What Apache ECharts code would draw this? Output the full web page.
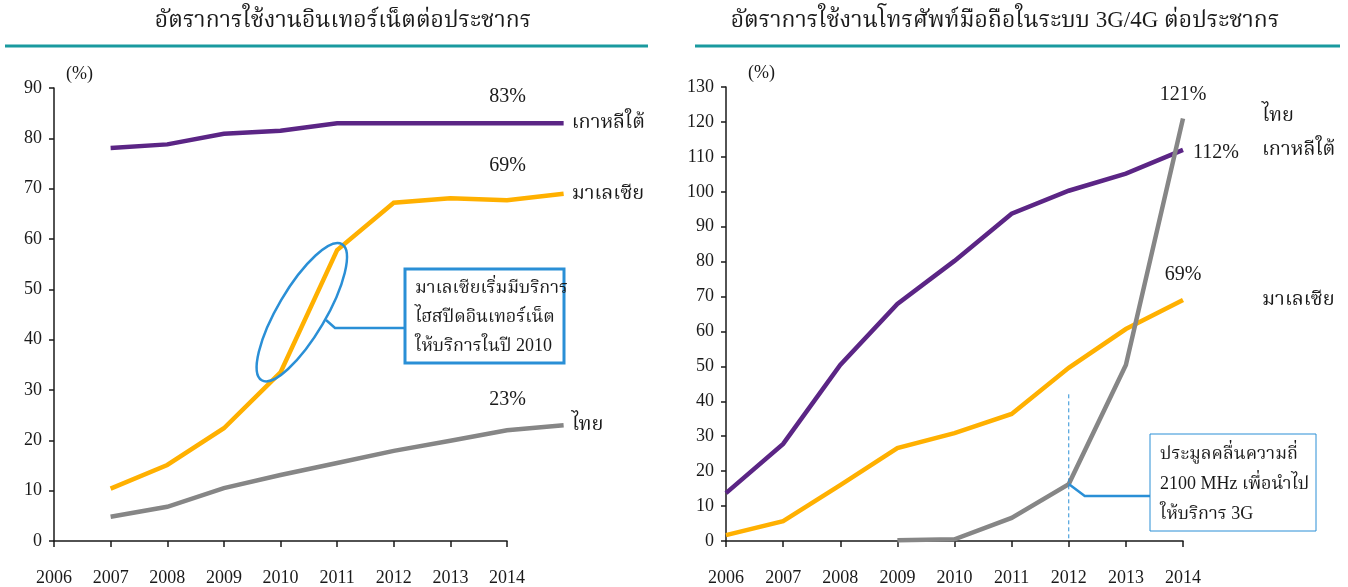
<!DOCTYPE html>
<html>
<head>
<meta charset="utf-8">
<script src="https://cdn.jsdelivr.net/npm/echarts@6/dist/echarts.min.js"></script>
<style>
  html, body { margin: 0; padding: 0; background: #ffffff; }
  #chart { width: 1348px; height: 587px; }
</style>
</head>
<body>
<div id="chart"></div>
<script>
// Axis tick labels (years) shared by both panels
const yearTicks = [2006, 2007, 2008, 2009, 2010, 2011, 2012, 2013, 2014];

// Internet users per population (%)
const netYears    = [2007, 2008, 2009, 2010, 2011, 2012, 2013, 2014, 2015];
const netKorea    = [78.1, 78.8, 80.9, 81.5, 83.0, 83.0, 83.0, 83.0, 83];
const netMalaysia = [10.4, 15.1, 22.4, 33.5, 57.8, 67.2, 68.1, 67.7, 69];
const netThailand = [4.8, 6.8, 10.5, 13.1, 15.5, 17.9, 19.9, 22.0, 23];

// 3G/4G mobile subscriptions per population (%)
const mobYears    = [2006, 2007, 2008, 2009, 2010, 2011, 2012, 2013, 2014];
const mobKorea    = [13.7, 27.8, 50.4, 67.9, 80.2, 93.7, 100.3, 105.2, 112];
const mobMalaysia = [1.7, 5.7, 16.0, 26.6, 30.9, 36.4, 49.6, 60.7, 69];
const mobThailand = [null, null, null, 0.2, 0.5, 6.6, 16.3, 50.4, 121];

const seriesNames = { korea: 'เกาหลีใต้', malaysia: 'มาเลเซีย', thailand: 'ไทย' };
const titles = [
  'อัตราการใช้งานอินเทอร์เน็ตต่อประชากร',
  'อัตราการใช้งานโทรศัพท์มือถือในระบบ 3G/4G ต่อประชากร'
];
const noteNet = ['มาเลเซียเริ่มมีบริการ', 'ไฮสปีดอินเทอร์เน็ต', 'ให้บริการในปี 2010'];
const noteMob = ['ประมูลคลื่นความถี่', '2100 MHz เพื่อนำไป', 'ให้บริการ 3G'];

const COLORS = { korea: '#5b2585', malaysia: '#ffb000', thailand: '#868686' };
const FONT = "'Liberation Serif', 'Norasi', 'Kinnari', 'Noto Serif Thai', 'Noto Sans Thai Looped', 'DejaVu Serif', serif";
const INK = '#1a1a1a';
const BLUE = '#2a8fd6';
const TEAL = '#1a9a9f';

function pairs(xs, ys) {
  const out = [];
  xs.forEach((x, i) => { if (ys[i] !== null) out.push([x, ys[i]]); });
  return out;
}

// "NN%" tag placed at the last point of a series
function pctMark(xs, ys, label) {
  let i = ys.length - 1;
  while (ys[i] === null) i--;
  return {
    symbol: 'circle', symbolSize: 0.1, silent: true, animation: false,
    itemStyle: { color: 'rgba(0,0,0,0)' },
    data: [{
      coord: [xs[i], ys[i]], value: ys[i],
      label: Object.assign({
        show: true,
        formatter: (p) => Math.round(p.value) + '%',
        fontFamily: FONT, fontSize: 20, color: INK
      }, label)
    }]
  };
}

function lineSeries(name, key, xs, ys, axisIdx, endDist, pctLabel, endOffset) {
  return {
    type: 'line',
    name: name,
    xAxisIndex: axisIdx,
    yAxisIndex: axisIdx,
    data: pairs(xs, ys),
    symbol: 'none',
    lineStyle: { color: COLORS[key], width: 4.5, cap: 'butt', join: 'miter' },
    itemStyle: { color: COLORS[key] },
    endLabel: {
      show: true,
      formatter: '{a}',
      distance: endDist,
      offset: endOffset || [0, 0],
      fontFamily: FONT, fontSize: 20, color: INK
    },
    markPoint: pctMark(xs, ys, pctLabel),
    emphasis: { disabled: true },
    animation: false
  };
}

function xAxisDef(gridIdx) {
  return {
    type: 'value', gridIndex: gridIdx,
    min: yearTicks[0], max: yearTicks[yearTicks.length - 1], interval: 1,
    splitLine: { show: false },
    axisLine: { lineStyle: { color: INK, width: 1.5 } },
    axisTick: { length: 6, lineStyle: { color: INK, width: 1.5 } },
    axisLabel: {
      margin: 28, fontFamily: FONT, fontSize: 18, color: INK,
      formatter: (v) => String(v)
    }
  };
}

function yAxisDef(gridIdx, max, namePad) {
  return {
    type: 'value', gridIndex: gridIdx,
    min: 0, max: max, interval: 10,
    name: '(%)',
    nameLocation: 'end',
    nameGap: 5,
    nameTextStyle: { fontFamily: FONT, fontSize: 18, color: INK, align: 'left', padding: [0, 0, 0, namePad] },
    splitLine: { show: false },
    axisLine: { show: true, lineStyle: { color: INK, width: 1.5 } },
    axisTick: { show: true, length: 5, lineStyle: { color: INK, width: 1.5 } },
    axisLabel: { margin: 12, fontFamily: FONT, fontSize: 18, color: INK }
  };
}

// The internet panel's lines run one year past the last labelled tick,
// so they sit on an unlabelled overlay grid that spans one extra year.
const NET_LEFT = 54, NET_W = 453;
const netSpan = yearTicks[yearTicks.length - 1] - yearTicks[0];
const netOverlayMax = netYears[netYears.length - 1];
const overlayW = NET_W * (netOverlayMax - yearTicks[0]) / netSpan;

const chart = echarts.init(document.getElementById('chart'), null, { renderer: 'canvas' });

chart.setOption({
  backgroundColor: '#ffffff',
  animation: false,
  title: [
    { text: titles[0], left: 338, top: 4, textAlign: 'center',
      textStyle: { fontFamily: FONT, fontSize: 23, fontWeight: 'normal', color: INK } },
    { text: titles[1], left: 1000, top: 4, textAlign: 'center',
      textStyle: { fontFamily: FONT, fontSize: 23, fontWeight: 'normal', color: INK } }
  ],
  grid: [
    { left: NET_LEFT, width: NET_W, top: 88, bottom: 46 },
    { left: 726, width: 457, top: 87, bottom: 46 },
    { left: NET_LEFT, width: overlayW, top: 88, bottom: 46 }
  ],
  xAxis: [
    xAxisDef(0),
    xAxisDef(1),
    { type: 'value', gridIndex: 2, min: yearTicks[0], max: netOverlayMax, show: false }
  ],
  yAxis: [
    yAxisDef(0, 90, 12),
    yAxisDef(1, 130, 22),
    { type: 'value', gridIndex: 2, min: 0, max: 90, show: false }
  ],
  series: [
    // internet panel: value tags sit above the 2014 tick
    lineSeries(seriesNames.korea, 'korea', netYears, netKorea, 2, 8,
      { position: 'top', distance: 16, offset: [-56, 0] }),
    lineSeries(seriesNames.malaysia, 'malaysia', netYears, netMalaysia, 2, 8,
      { position: 'top', distance: 18, offset: [-56, 0] }),
    lineSeries(seriesNames.thailand, 'thailand', netYears, netThailand, 2, 8,
      { position: 'top', distance: 15, offset: [-56, 0] }),
    // mobile panel
    lineSeries(seriesNames.korea, 'korea', mobYears, mobKorea, 1, 79,
      { position: 'right', distance: 10, offset: [0, 3] }),
    lineSeries(seriesNames.malaysia, 'malaysia', mobYears, mobMalaysia, 1, 79,
      { position: 'top', distance: 15 }),
    lineSeries(seriesNames.thailand, 'thailand', mobYears, mobThailand, 1, 79,
      { position: 'top', distance: 14 }, [0, -3])
  ]
});

// Annotations anchored to data positions
const px = (g, x, y) => chart.convertToPixel({ gridIndex: g }, [x, y]);

const malA = px(2, 2010, netMalaysia[3]);
const malB = px(2, 2011, netMalaysia[4]);
const ellC = [(malA[0] + malB[0]) / 2 - 7, (malA[1] + malB[1]) / 2 + 1];
const thai12 = px(1, 2012, mobThailand[6]);
const x12Top = px(1, 2012, 42);
const x12Base = px(1, 2012, 0);

function noteBox(x, y, w, h, lw, lines, lh) {
  return [
    { type: 'rect', shape: { x: x, y: y, width: w, height: h },
      style: { fill: '#ffffff', stroke: BLUE, lineWidth: lw }, z: 10 },
    { type: 'text', x: x + 10, y: y + 5, z: 11,
      style: { text: lines.join('\n'), fill: INK, font: '18px ' + FONT, lineHeight: lh } }
  ];
}

chart.setOption({
  graphic: [
    // teal rules under the panel titles
    { type: 'line', shape: { x1: 5, y1: 46, x2: 648, y2: 46 }, style: { stroke: TEAL, lineWidth: 3 } },
    { type: 'line', shape: { x1: 695, y1: 46, x2: 1340, y2: 46 }, style: { stroke: TEAL, lineWidth: 3 } },
    // ellipse around the 2010-2011 jump
    { type: 'ellipse', x: ellC[0], y: ellC[1], rotation: 59.5 * Math.PI / 180,
      shape: { cx: 0, cy: 0, rx: 79, ry: 24 },
      style: { fill: 'none', stroke: BLUE, lineWidth: 2.5 }, z: 9 },
    { type: 'polyline', shape: { points: [[326, 320], [335, 328], [405, 328]] },
      style: { fill: 'none', stroke: BLUE, lineWidth: 2.5 }, z: 9 },
    ...noteBox(405, 269, 159, 94, 3, noteNet, 29),
    // spectrum auction marker at 2012
    { type: 'line', shape: { x1: x12Top[0], y1: x12Top[1], x2: x12Base[0], y2: x12Base[1] },
      style: { stroke: BLUE, lineWidth: 1, lineDash: [4, 3] }, z: 9 },
    { type: 'polyline', shape: { points: [thai12, [thai12[0] + 16, thai12[1] + 12], [1150, thai12[1] + 12]] },
      style: { fill: 'none', stroke: BLUE, lineWidth: 2.5 }, z: 9 },
    ...noteBox(1150, 434, 166, 97, 1, noteMob, 30)
  ]
});
</script>
</body>
</html>
